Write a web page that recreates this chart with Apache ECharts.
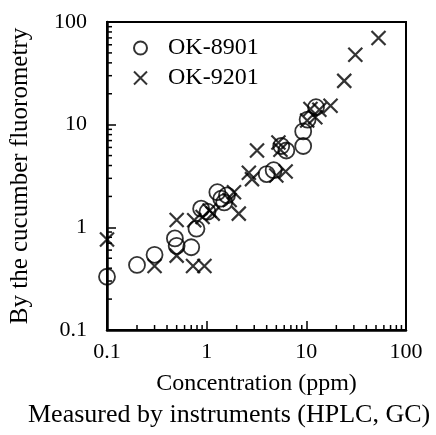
<!DOCTYPE html>
<html>
<head>
    <meta charset="utf-8">
    <title>ECharts</title>
    <script src="https://cdn.jsdelivr.net/npm/echarts@6/dist/echarts.min.js"></script>
    <style>
        html, body { margin: 0; padding: 0; background: #fff; }
    </style>
</head>
<body>
    <div id="main" style="width: 436px;height:435px;"></div>

    <script type="text/javascript">
    // data: [instrument ppm, cucumber fluorometry]
    var ok8901 = [
        [0.1, 0.33], [0.2, 0.43], [0.3, 0.54], [0.48, 0.78], [0.5, 0.66],
        [0.7, 0.64], [0.79, 0.97], [0.88, 1.52], [1.02, 1.42], [1.28, 2.2],
        [1.4, 1.9], [1.6, 2.05], [1.5, 1.75], [4.0, 3.3], [4.7, 3.6],
        [5.6, 6.2], [6.3, 5.6], [9.3, 6.2], [9.3, 8.6], [10.3, 11.2], [12.5, 14.8]
    ];
    var ok9201 = [
        [0.1, 0.76], [0.3, 0.42], [0.5, 1.18], [0.5, 0.53], [0.73, 0.42],
        [0.95, 0.42], [0.75, 1.17], [0.91, 1.26], [1.15, 1.36], [1.07, 1.46],
        [1.88, 2.2], [1.7, 1.85], [2.1, 1.36], [2.65, 3.4], [2.85, 2.95],
        [3.2, 5.6], [5.25, 6.7], [5.5, 5.7], [6.2, 3.5], [5.0, 3.2],
        [10.2, 11], [11, 14.2], [13.5, 14], [12.3, 11.8], [17.5, 15.3],
        [24, 26.7], [31, 48], [53, 70]
    ];
    var seriesNames = ['OK-8901', 'OK-9201'];
    var tickLabels = ['0.1', '1', '10', '100'];
    var decades = [0.1, 1, 10];
    var minorSteps = [2, 3, 4, 5, 6, 7, 8, 9];

    var font = "'Liberation Serif', 'DejaVu Serif', serif";
    var crossPath = 'path://M0,0L10,10M10,0L0,10';

    // minor ticks 2..9 in every decade
    var minorVals = [];
    decades.forEach(function (d) {
        minorSteps.forEach(function (s) { minorVals.push(+(d * s).toPrecision(3)); });
    });
    var minorX = minorVals.map(function (v) { return [v, 0.1]; });
    var minorY = minorVals.map(function (v) { return [0.1, v]; });

    function labelOf(v) {
        return tickLabels[Math.round(Math.log10(v)) + 1];
    }

    function tickRenderer(dir) {
        return function (params, api) {
            var p = api.coord([api.value(0), api.value(1)]);
            var len = 5;
            var shape = dir === 'x'
                ? { x1: p[0], y1: p[1], x2: p[0], y2: p[1] - len }
                : { x1: p[0], y1: p[1], x2: p[0] + len, y2: p[1] };
            return {
                type: 'line',
                shape: shape,
                style: { stroke: '#000', lineWidth: 1.5 }
            };
        };
    }

    var myChart = echarts.init(document.getElementById('main'));

    var axisCommon = {
        type: 'log',
        logBase: 10,
        min: 0.1,
        max: 100,
        splitLine: { show: false },
        axisLine: { show: true, lineStyle: { color: '#000', width: 2.5 } },
        axisTick: { show: true, inside: true, length: 9, lineStyle: { color: '#000', width: 1.5 } },
        axisLabel: {
            color: '#000', fontFamily: font, fontSize: 22,
            formatter: labelOf
        },
        nameTextStyle: { color: '#000', fontFamily: font, fontSize: 24 }
    };

    var option = {
        animation: false,
        backgroundColor: '#fff',
        grid: {
            left: 103, top: 22, right: 30, bottom: 105,
            show: true, borderColor: '#000', borderWidth: 2
        },
        legend: {
            data: seriesNames,
            orient: 'vertical',
            left: 128,
            top: 31,
            itemGap: 6,
            itemWidth: 13,
            itemHeight: 13,
            textStyle: { color: '#000', fontFamily: font, fontSize: 24, padding: [0, 0, 0, 16] }
        },
        xAxis: Object.assign({}, axisCommon, {
            name: 'Concentration (ppm)',
            nameLocation: 'middle',
            nameGap: 42,
            axisLabel: Object.assign({}, axisCommon.axisLabel, { margin: 11 })
        }),
        yAxis: Object.assign({}, axisCommon, {
            name: 'By the cucumber fluorometry',
            nameLocation: 'middle',
            nameGap: 74,
            nameTextStyle: { color: '#000', fontFamily: font, fontSize: 25 },
            axisLabel: Object.assign({}, axisCommon.axisLabel, { margin: 20 })
        }),
        graphic: [{
            type: 'text',
            left: 28,
            top: 402,
            style: {
                text: 'Measured by instruments (HPLC, GC)',
                fill: '#000', font: '26px ' + font
            }
        }],
        series: [
            {
                name: seriesNames[0],
                type: 'scatter',
                symbol: 'circle',
                symbolSize: 16,
                itemStyle: { color: 'transparent', borderColor: '#000', borderWidth: 1.8 },
                data: ok8901
            },
            {
                name: seriesNames[1],
                type: 'scatter',
                symbol: crossPath,
                symbolSize: 14,
                itemStyle: { color: 'transparent', borderColor: '#000', borderWidth: 2.2 },
                data: ok9201
            },
            {
                type: 'custom',
                silent: true,
                clip: false,
                renderItem: tickRenderer('x'),
                data: minorX
            },
            {
                type: 'custom',
                silent: true,
                clip: false,
                renderItem: tickRenderer('y'),
                data: minorY
            }
        ]
    };

    myChart.setOption(option);
    </script>
</body>
</html>
